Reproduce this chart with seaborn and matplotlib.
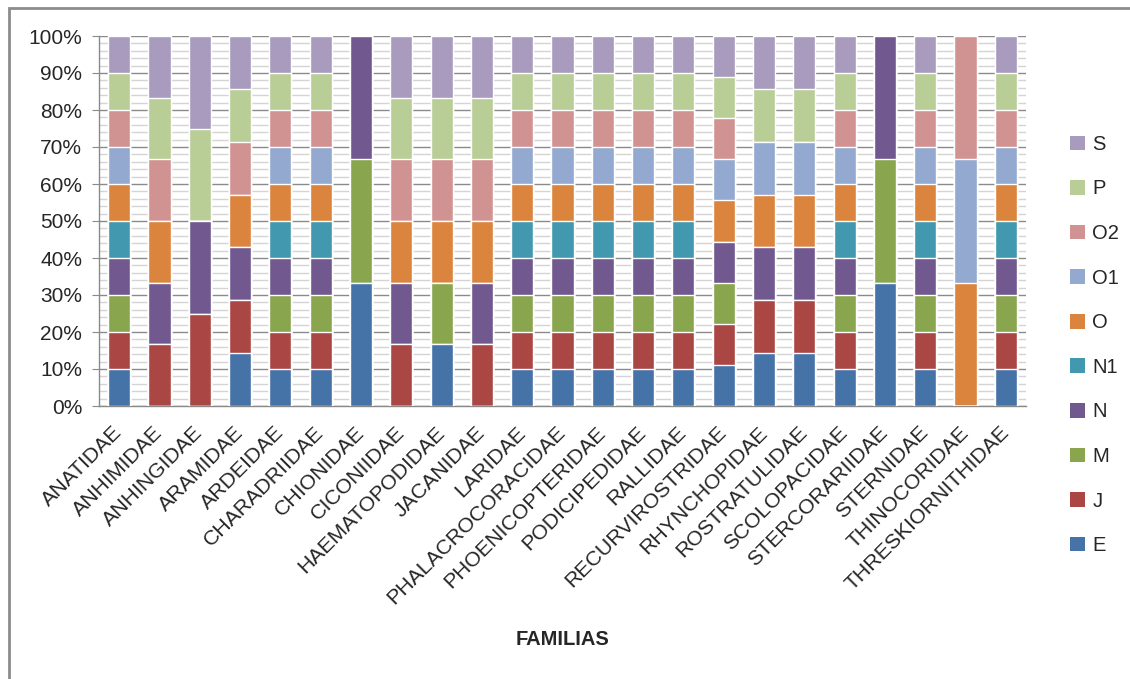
import matplotlib
matplotlib.use("Agg")
import matplotlib.pyplot as plt
from matplotlib.patches import Patch, Rectangle
from matplotlib.ticker import MultipleLocator, PercentFormatter
import numpy as np
import pandas as pd
import seaborn as sns

# Families (x axis)
familias = [
    "ANATIDAE", "ANHIMIDAE", "ANHINGIDAE", "ARAMIDAE", "ARDEIDAE",
    "CHARADRIIDAE", "CHIONIDAE", "CICONIIDAE", "HAEMATOPODIDAE", "JACANIDAE",
    "LARIDAE", "PHALACROCORACIDAE", "PHOENICOPTERIDAE", "PODICIPEDIDAE",
    "RALLIDAE", "RECURVIROSTRIDAE", "RHYNCHOPIDAE", "ROSTRATULIDAE",
    "SCOLOPACIDAE", "STERCORARIIDAE", "STERNIDAE", "THINOCORIDAE",
    "THRESKIORNITHIDAE",
]

# Presence (1) / absence (0) of each family per category
E  = [1, 0, 0, 1, 1, 1, 1, 0, 1, 0, 1, 1, 1, 1, 1, 1, 1, 1, 1, 1, 1, 0, 1]
J  = [1, 1, 1, 1, 1, 1, 0, 1, 0, 1, 1, 1, 1, 1, 1, 1, 1, 1, 1, 0, 1, 0, 1]
M  = [1, 0, 0, 0, 1, 1, 1, 0, 1, 0, 1, 1, 1, 1, 1, 1, 0, 0, 1, 1, 1, 0, 1]
N  = [1, 1, 1, 1, 1, 1, 1, 1, 0, 1, 1, 1, 1, 1, 1, 1, 1, 1, 1, 1, 1, 0, 1]
N1 = [1, 0, 0, 0, 1, 1, 0, 0, 0, 0, 1, 1, 1, 1, 1, 0, 0, 0, 1, 0, 1, 0, 1]
O  = [1, 1, 0, 1, 1, 1, 0, 1, 1, 1, 1, 1, 1, 1, 1, 1, 1, 1, 1, 0, 1, 1, 1]
O1 = [1, 0, 0, 0, 1, 1, 0, 0, 0, 0, 1, 1, 1, 1, 1, 1, 1, 1, 1, 0, 1, 1, 1]
O2 = [1, 1, 0, 1, 1, 1, 0, 1, 1, 1, 1, 1, 1, 1, 1, 1, 0, 0, 1, 0, 1, 1, 1]
P  = [1, 1, 1, 1, 1, 1, 0, 1, 1, 1, 1, 1, 1, 1, 1, 1, 1, 1, 1, 0, 1, 0, 1]
S  = [1, 1, 1, 1, 1, 1, 0, 1, 1, 1, 1, 1, 1, 1, 1, 1, 1, 1, 1, 0, 1, 0, 1]

series_names = ["E", "J", "M", "N", "N1", "O", "O1", "O2", "P", "S"]
series_values = [E, J, M, N, N1, O, O1, O2, P, S]
colores = ["#4572A7", "#AA4643", "#89A54E", "#71588F", "#4198AF",
           "#DB843D", "#93A9CF", "#D19392", "#B9CD96", "#A99BBD"]

sns.set_style("white")
plt.rcParams["font.family"] = ["Liberation Sans", "DejaVu Sans"]

df = pd.DataFrame(dict(zip(series_names, series_values)), index=familias)
pct = df.div(df.sum(axis=1), axis=0) * 100
cum = pct.cumsum(axis=1)

fig = plt.figure(figsize=(11.30, 6.79), dpi=100)
ax = fig.add_axes([99 / 1130, 1 - 406 / 679, (1026 - 99) / 1130, (406 - 36) / 679])

# 100% stacked bars: cumulative totals drawn from the top layer down
for name, col in zip(reversed(series_names), reversed(colores)):
    sns.barplot(x=familias, y=cum[name].values, order=familias, color=col,
                saturation=1, width=0.55, errorbar=None, ax=ax, zorder=3)

ax.set_ylim(0, 100)
ax.set_xlim(-0.5, len(familias) - 0.5)
ax.yaxis.set_major_locator(MultipleLocator(10))
ax.yaxis.set_minor_locator(MultipleLocator(2))
ax.yaxis.set_major_formatter(PercentFormatter(decimals=0))
ax.grid(which="minor", axis="y", color="#d4d4d4", linewidth=1.0, zorder=0)
ax.grid(which="major", axis="y", color="#8a8a8a", linewidth=1.0, zorder=1)
ax.set_axisbelow(True)

for side in ["top", "right"]:
    ax.spines[side].set_visible(False)
for side in ["left", "bottom"]:
    ax.spines[side].set_color("#8a8a8a")
    ax.spines[side].set_linewidth(1.0)

ax.tick_params(axis="y", which="major", length=5, color="#8a8a8a",
               labelsize=15, pad=7, left=True)
ax.tick_params(axis="y", which="minor", length=0)
ax.tick_params(axis="x", length=0, labelsize=15.3, pad=17)
plt.setp(ax.get_xticklabels(), rotation=45, ha="right", va="center",
         rotation_mode="anchor")

ax.set_xlabel("FAMILIAS", fontsize=14.5, fontweight="bold", labelpad=0)
ax.xaxis.set_label_coords(0.5, -0.605)
ax.set_ylabel("")

handles = [Patch(facecolor=c, edgecolor="none") for c in colores]
leg = fig.legend(handles[::-1], series_names[::-1], loc="center left",
                 bbox_to_anchor=(1062 / 1130, 1 - 345 / 679), frameon=False,
                 fontsize=14.5, handlelength=0.75, handleheight=0.75,
                 handletextpad=0.35, labelspacing=1.27, borderaxespad=0)

# Outer chart frame
fig.patches.append(Rectangle((9 / 1130, -0.05), 1.2, 1 - 8 / 679 + 0.05,
                             transform=fig.transFigure, fill=False,
                             edgecolor="#8c8c8c", linewidth=2))

fig.savefig("out.png", dpi=100)
